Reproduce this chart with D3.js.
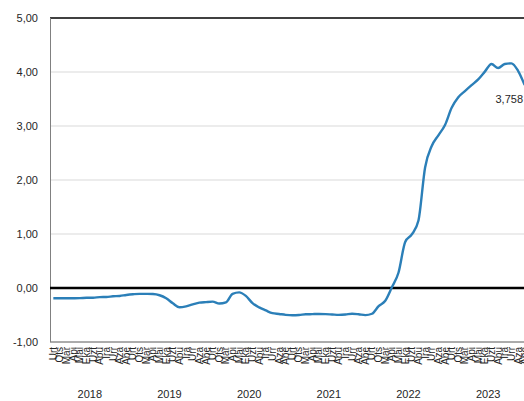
<!DOCTYPE html>
<html>
<head>
<meta charset="utf-8">
<script src="https://cdn.jsdelivr.net/npm/d3@7"></script>
<style>
  html, body { margin: 0; padding: 0; background: #fff; }
  svg { display: block; font-family: "Liberation Sans", Arial, sans-serif; }
</style>
</head>
<body>
<svg id="chart" width="524" height="401"></svg>
<script>
// ---- data ----
const monthNames = ["Urt","Ots","Mar","Api","Mai","Eka","Uzt","Abu","Ira","Urr","Aza","Abe"];
const years = [2018, 2019, 2020, 2021, 2022, 2023];
const v2018 = [-0.189,-0.191,-0.191,-0.190,-0.188,-0.181,-0.180,-0.169,-0.166,-0.154,-0.147,-0.129];
const v2019 = [-0.116,-0.108,-0.109,-0.112,-0.134,-0.190,-0.283,-0.356,-0.339,-0.304,-0.272,-0.261];
const v2020 = [-0.253,-0.288,-0.266,-0.108,-0.081,-0.147,-0.279,-0.359,-0.415,-0.466,-0.481,-0.497];
const v2021 = [-0.505,-0.501,-0.487,-0.484,-0.481,-0.484,-0.491,-0.498,-0.492,-0.477,-0.487,-0.502];
const v2022 = [-0.477,-0.335,-0.237,0.013,0.287,0.852,0.992,1.249,2.233,2.629,2.828,3.018];
const v2023 = [3.337,3.534,3.647,3.757,3.862,4.007,4.149,4.073,4.149,4.160,4.022,3.758];
const yTicks = [-1, 0, 1, 2, 3, 4, 5];
const lastLabel = "3,758";

(function () {
const seriesByYear = [v2018, v2019, v2020, v2021, v2022, v2023];
const data = [];
years.forEach((yr, yi) => monthNames.forEach((m, mi) => {
  data.push({ key: yr + "-" + mi, year: yr, month: m, value: seriesByYear[yi][mi] });
}));

// ---- layout ----
const svg = d3.select("#chart");
const mLeft = 50, mRight = 528, mTop = 18, mBottom = 342;

const x = d3.scaleBand().domain(data.map(d => d.key)).range([mLeft, mRight]).padding(0);
const y = d3.scaleLinear().domain([-1, 5]).range([mBottom, mTop]);
const fmt = v => d3.format(".2f")(v).replace(".", ",").replace("\u2212", "-");

// gridlines
svg.append("g").selectAll("line")
  .data(yTicks.filter(t => t > 0 && t < 5))
  .join("line")
  .attr("x1", mLeft).attr("x2", mRight)
  .attr("y1", d => y(d)).attr("y2", d => y(d))
  .attr("stroke", "#d9d9d9").attr("stroke-width", 1);

// top line
svg.append("line")
  .attr("x1", mLeft).attr("x2", mRight)
  .attr("y1", y(5)).attr("y2", y(5))
  .attr("stroke", "#000").attr("stroke-width", 1.3);

// bottom line
svg.append("line")
  .attr("x1", mLeft).attr("x2", mRight)
  .attr("y1", y(-1)).attr("y2", y(-1))
  .attr("stroke", "#595959").attr("stroke-width", 1);

// left axis line
svg.append("line")
  .attr("x1", mLeft + 0.5).attr("x2", mLeft + 0.5)
  .attr("y1", y(5)).attr("y2", y(-1))
  .attr("stroke", "#808080").attr("stroke-width", 1);

// y labels
svg.append("g").selectAll("text")
  .data(yTicks)
  .join("text")
  .attr("x", 38).attr("y", d => y(d))
  .attr("dy", "0.35em")
  .attr("text-anchor", "end")
  .attr("font-size", 11)
  .attr("fill", "#262626")
  .text(d => fmt(d));

// zero line
svg.append("line")
  .attr("x1", mLeft).attr("x2", mRight)
  .attr("y1", y(0)).attr("y2", y(0))
  .attr("stroke", "#000").attr("stroke-width", 2.5);

// series line
const line = d3.line()
  .x(d => x(d.key) + x.bandwidth() / 2)
  .y(d => y(d.value))
  .curve(d3.curveMonotoneX);

svg.append("path")
  .datum(data)
  .attr("d", line)
  .attr("fill", "none")
  .attr("stroke", "#2B7FB8")
  .attr("stroke-width", 2.4)
  .attr("stroke-linejoin", "round");

// data label for last point
svg.append("text")
  .attr("x", 523).attr("y", y(data[data.length - 1].value) + 18)
  .attr("text-anchor", "end")
  .attr("font-size", 11)
  .attr("fill", "#262626")
  .text(lastLabel);

// month labels (rotated)
svg.append("g").selectAll("text")
  .data(data)
  .join("text")
  .attr("transform", d => `translate(${x(d.key) + x.bandwidth() / 2 + 3.5},${mBottom + 5}) rotate(-90)`)
  .attr("text-anchor", "end")
  .attr("font-size", 10)
  .attr("fill", "#262626")
  .text(d => d.month);

// year labels
svg.append("g").selectAll("text")
  .data(years)
  .join("text")
  .attr("x", yr => {
    const first = x(yr + "-0"), last = x(yr + "-11") + x.bandwidth();
    return (first + last) / 2;
  })
  .attr("y", 398)
  .attr("text-anchor", "middle")
  .attr("font-size", 11)
  .attr("fill", "#262626")
  .text(d => d);
})();
</script>
</body>
</html>
